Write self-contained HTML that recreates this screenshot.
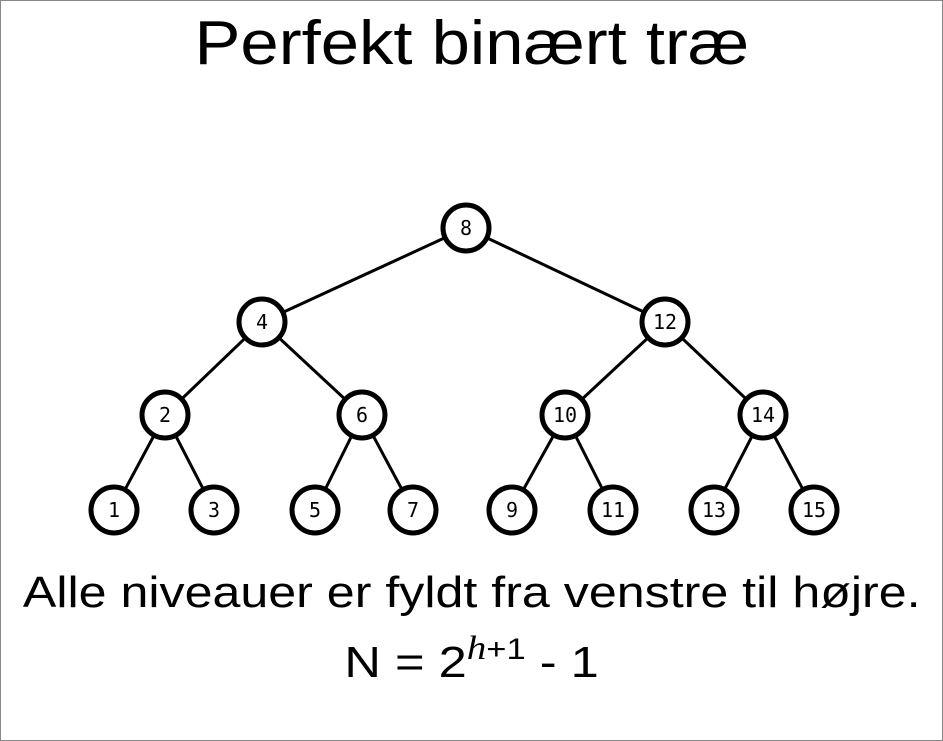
<!DOCTYPE html>
<html><head><meta charset="utf-8"><style>
body{margin:0;width:943px;height:741px;background:#fff;overflow:hidden}
.frame{position:absolute;left:0;top:0;width:941px;height:739px;border:1px solid #888}
.t{position:absolute;width:943px;text-align:center;font-family:"Liberation Sans","DejaVu Sans",sans-serif;color:#000;white-space:nowrap}
.t span.in{display:inline-block}
</style></head><body>
<div class="frame"></div>
<div class="t" style="top:8px;font-size:62px"><span class="in" style="transform:scaleX(1.11)">Perfekt binært træ</span></div>
<svg width="943" height="741" style="position:absolute;left:0;top:0">
<g stroke="#000" stroke-width="3">
<line x1="466" y1="228" x2="262" y2="322"/><line x1="466" y1="228" x2="665" y2="322"/>
<line x1="262" y1="322" x2="165" y2="415"/><line x1="262" y1="322" x2="362" y2="415"/>
<line x1="665" y1="322" x2="565" y2="415"/><line x1="665" y1="322" x2="763" y2="415"/>
<line x1="165" y1="415" x2="114" y2="510"/><line x1="165" y1="415" x2="214" y2="510"/>
<line x1="362" y1="415" x2="315" y2="510"/><line x1="362" y1="415" x2="413" y2="510"/>
<line x1="565" y1="415" x2="512" y2="510"/><line x1="565" y1="415" x2="613" y2="510"/>
<line x1="763" y1="415" x2="714" y2="510"/><line x1="763" y1="415" x2="814" y2="510"/>
</g>
<g fill="#fff" stroke="#000" stroke-width="5">
<circle cx="466" cy="228" r="23"/><circle cx="262" cy="322" r="23"/><circle cx="665" cy="322" r="23"/>
<circle cx="165" cy="415" r="23"/><circle cx="362" cy="415" r="23"/><circle cx="565" cy="415" r="23"/><circle cx="763" cy="415" r="23"/>
<circle cx="114" cy="510" r="23"/><circle cx="214" cy="510" r="23"/><circle cx="315" cy="510" r="23"/><circle cx="413" cy="510" r="23"/>
<circle cx="512" cy="510" r="23"/><circle cx="613" cy="510" r="23"/><circle cx="714" cy="510" r="23"/><circle cx="814" cy="510" r="23"/>
</g>
<g font-family="DejaVu Sans Mono,Liberation Mono,monospace" font-size="20" text-anchor="middle">
<text x="466" y="235">8</text><text x="262" y="329">4</text><text x="665" y="329">12</text>
<text x="165" y="422">2</text><text x="362" y="422">6</text><text x="565" y="422">10</text><text x="763" y="422">14</text>
<text x="114" y="517">1</text><text x="214" y="517">3</text><text x="315" y="517">5</text><text x="413" y="517">7</text>
<text x="512" y="517">9</text><text x="613" y="517">11</text><text x="714" y="517">13</text><text x="814" y="517">15</text>
</g>
</svg>
<div class="t" style="top:568px;font-size:44px"><span class="in" style="transform:scaleX(1.14)">Alle niveauer er fyldt fra venstre til højre.</span></div>
<div class="t" style="top:638px;font-size:44px"><span class="in" style="transform:scaleX(1.15)">N = 2<span style="font-family:'Liberation Serif',serif;font-style:italic;font-size:34px;position:relative;top:-18px">h</span><span style="font-size:30px;position:relative;top:-18px">+1</span> - 1</span></div>
</body></html>
